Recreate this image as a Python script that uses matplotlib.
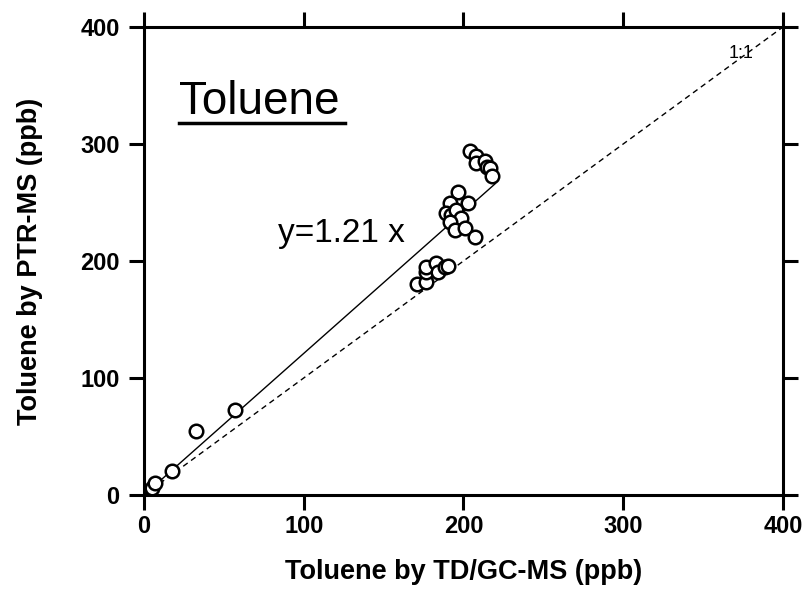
import matplotlib
matplotlib.use("Agg")
import matplotlib.pyplot as plt

plt.rcParams['font.family'] = ['Liberation Sans', 'DejaVu Sans']

x_vals = [4.8, 6.9, 17.3, 32.3, 56.8,
          171.2, 176.7, 176.7, 176.7, 182.9, 184.0, 188.3, 190.3,
          196.6, 191.4, 202.8, 189.3, 192.4, 195.5, 198.6, 191.4, 194.5, 200.7, 207.0,
          203.8, 208.0, 208.0, 213.2, 214.9, 216.3, 217.8]
y_vals = [6.0, 10.3, 20.5, 55.0, 72.6,
          180.3, 182.3, 190.9, 195.0, 198.0, 191.0, 195.0, 195.7,
          259.2, 249.8, 249.3, 240.8, 239.3, 243.6, 236.5, 233.6, 226.5, 228.0, 220.3,
          294.3, 289.7, 283.5, 285.7, 280.6, 279.2, 272.9]
slope = 1.21
fit_x = [0, 220]
one_x = [0, 400]
ticks = [0, 100, 200, 300, 400]

fig = plt.figure(figsize=(8.08, 5.89), dpi=100)
ax = fig.add_axes([0.1782, 0.1596, 0.7908, 0.7946])
ax.set_xlim(0, 400)
ax.set_ylim(0, 400)

ax.plot(one_x, one_x, color="black", lw=1, ls=(0, (4, 3)))
ax.plot(fit_x, [slope * v for v in fit_x], color="black", lw=1)
ax.scatter(x_vals, y_vals, s=95, facecolors="white", edgecolors="black", linewidths=1.8, zorder=3)

ax.set_xticks(ticks)
ax.set_yticks(ticks)
for s in ax.spines.values():
    s.set_linewidth(2.2)
ax.tick_params(direction="out", length=10.5, width=2.2, top=True, right=True,
               labelsize=17)
ax.tick_params(axis="x", pad=4)
ax.tick_params(axis="y", pad=7)
for lab in ax.get_xticklabels() + ax.get_yticklabels():
    lab.set_fontweight("bold")
ax.set_xlabel("Toluene by TD/GC-MS (ppb)", fontsize=19.5, fontweight="bold", labelpad=15)
ax.set_ylabel("Toluene by PTR-MS (ppb)", fontsize=19.5, fontweight="bold", labelpad=27)

ax.text(22, 326, "Toluene", fontsize=33, va="baseline", ha="left")
ax.plot([22, 126], [318, 318], color="black", lw=2.5)
ax.text(84, 216, "y=1.21 x", fontsize=24, va="baseline", ha="left")
ax.text(374, 377, "1:1", fontsize=13, va="center", ha="center")

fig.savefig("out.png", dpi=100)
